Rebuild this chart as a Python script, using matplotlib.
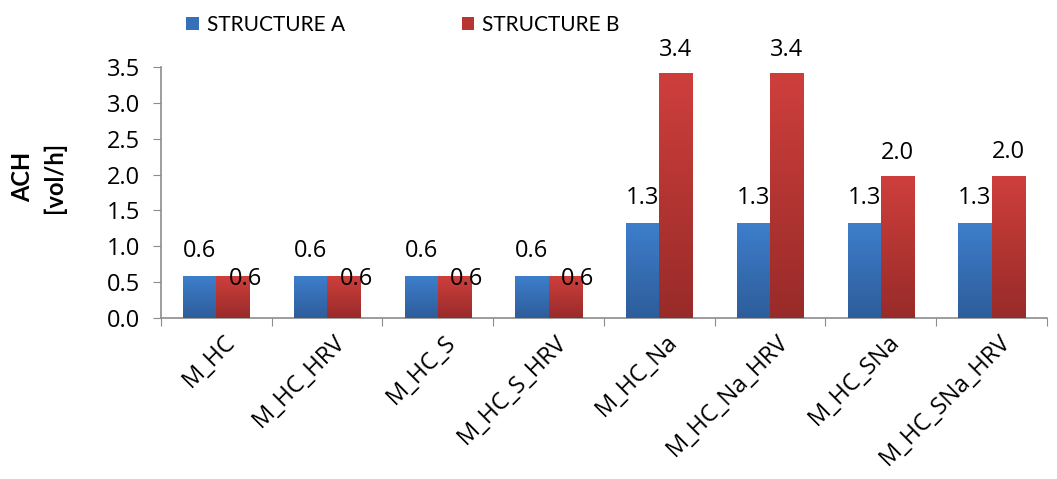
import matplotlib
matplotlib.use('Agg')
import matplotlib.pyplot as plt
import matplotlib.transforms as mtransforms
from matplotlib.colors import LinearSegmentedColormap
from matplotlib.patches import Patch
import numpy as np

categories = ['M_HC', 'M_HC_HRV', 'M_HC_S', 'M_HC_S_HRV',
              'M_HC_Na', 'M_HC_Na_HRV', 'M_HC_SNa', 'M_HC_SNa_HRV']
structure_a = [0.58, 0.58, 0.58, 0.58, 1.32, 1.32, 1.32, 1.32]
structure_b = [0.58, 0.58, 0.58, 0.58, 3.41, 3.41, 1.97, 1.98]
series_names = ['STRUCTURE A', 'STRUCTURE B']
yticks = [0.0, 0.5, 1.0, 1.5, 2.0, 2.5, 3.0, 3.5]

plt.rcParams['font.family'] = ['Open Sans', 'DejaVu Sans']
LABEL_FONT = ['Lato', 'DejaVu Sans']
FS = 17

blue_cmap = LinearSegmentedColormap.from_list('b', ['#2D5D9B', '#3E7ECB'])
red_cmap = LinearSegmentedColormap.from_list('r', ['#982B29', '#CE3F3C'])

fig = plt.figure(figsize=(10.57, 4.79), dpi=100)
ax = fig.add_axes([0.1523, 0.336, 0.8382, 0.524])

bar_width = 0.3
index = np.arange(len(categories))
bars_a = ax.bar(index - bar_width / 2, structure_a, width=bar_width, color='#3570B8', zorder=2)
bars_b = ax.bar(index + bar_width / 2, structure_b, width=bar_width, color='#B83532', zorder=2)

# vertical gradient fill for each bar
grad = np.linspace(0, 1, 256).reshape(-1, 1)
for bars, cmap in ((bars_a, blue_cmap), (bars_b, red_cmap)):
    for b in bars:
        x0, w, h = b.get_x(), b.get_width(), b.get_height()
        ax.imshow(grad, extent=[x0, x0 + w, 0, h], origin='lower', aspect='auto',
                  cmap=cmap, zorder=3)

ax.set_xlim(-0.5, len(categories) - 0.5)
ax.set_ylim(0, 3.5)
ax.set_yticks(yticks)
ax.set_yticklabels(['%.1f' % v for v in yticks])

# value labels
for i, (a, b) in enumerate(zip(structure_a, structure_b)):
    ax.annotate('%.1f' % a, (i - bar_width / 2, a), xytext=(0, 18), textcoords='offset points',
                ha='center', va='center', fontsize=FS, zorder=5)
    if abs(a - b) < 0.1:
        ax.annotate('%.1f' % b, (i + bar_width / 2, b), xytext=(9, -2), textcoords='offset points',
                    ha='center', va='center', fontsize=FS, zorder=5)
    else:
        ax.annotate('%.1f' % b, (i + bar_width / 2, b), xytext=(0, 17), textcoords='offset points',
                    ha='center', va='center', fontsize=FS, zorder=5)

# category ticks between groups, labels rotated
ax.set_xticks(np.arange(-0.5, len(categories) + 0.5, 1))
ax.set_xticklabels([])
ax.set_xticks(index, minor=True)
ax.set_xticklabels(categories, minor=True, rotation=45, ha='right', va='center',
                   rotation_mode='anchor', fontsize=FS)
ax.tick_params(axis='x', which='minor', length=0, pad=15)
offset = mtransforms.ScaledTranslation(15 / 100, 0, fig.dpi_scale_trans)
for lbl in ax.get_xticklabels(minor=True):
    lbl.set_transform(lbl.get_transform() + offset)
ax.tick_params(axis='x', which='major', length=6, color='#8C8C8C', direction='out')
ax.tick_params(axis='y', length=6, color='#8C8C8C', direction='out', pad=9, labelsize=FS)

for s in ['top', 'right']:
    ax.spines[s].set_visible(False)
for s in ['left', 'bottom']:
    ax.spines[s].set_color('#8C8C8C')
    ax.spines[s].set_linewidth(1.2)

fig.text(23 / 1057, 1 - 177 / 479, 'ACH', rotation=90, ha='center', va='center',
         fontsize=17, fontweight='bold', family=LABEL_FONT)
fig.text(54 / 1057, 1 - 177 / 479, '[vol/h]', rotation=90, ha='center', va='center',
         fontsize=17, fontweight='bold', family=LABEL_FONT)

handles = [Patch(facecolor='#3570B8'), Patch(facecolor='#B83532')]
fig.legend(handles, series_names, loc='center left', bbox_to_anchor=(186 / 1057, 1 - 25 / 479),
           ncol=2, frameon=False, prop={'family': LABEL_FONT, 'size': 15},
           handlelength=0.6, handleheight=0.6,
           handletextpad=0.4, columnspacing=5.6, borderpad=0, borderaxespad=0)

fig.savefig('out.png', dpi=100)
